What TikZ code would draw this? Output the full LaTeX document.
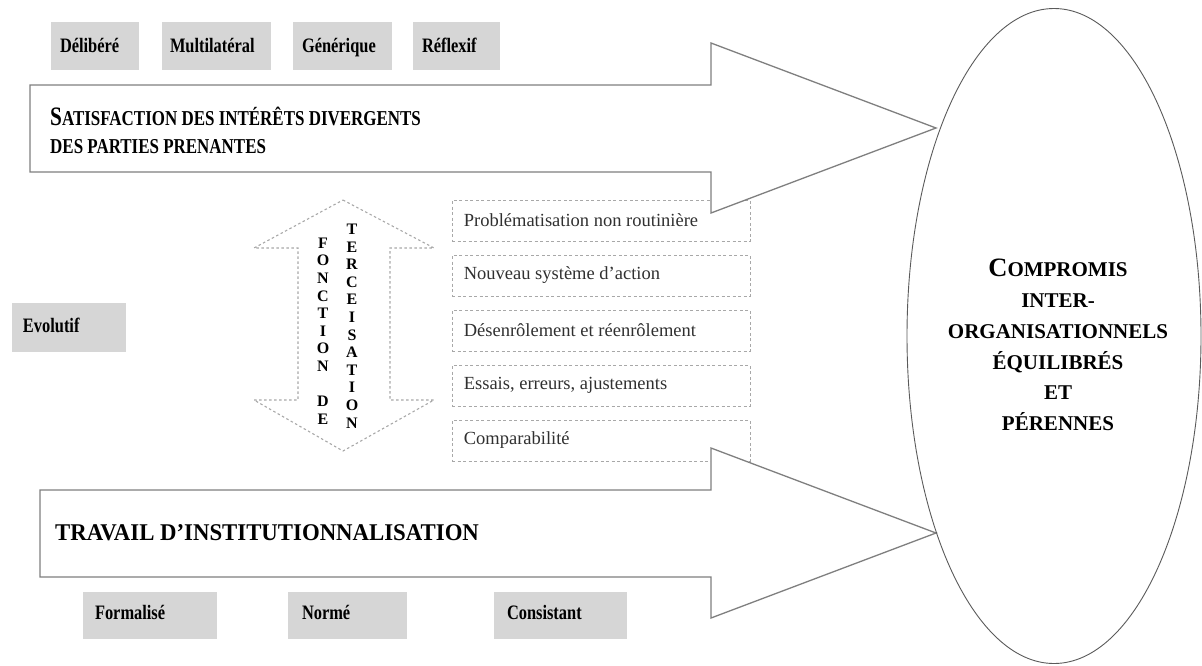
\documentclass[tikz,border=0pt]{standalone}
\usepackage{fontspec}
\usepackage{graphicx}
\setmainfont{Liberation Serif}
\usetikzlibrary{shapes.geometric}
\definecolor{tagfill}{HTML}{D6D6D6}
\definecolor{arrowline}{HTML}{7F7F7F}
\definecolor{dashline}{HTML}{A8A8A8}
\definecolor{elline}{HTML}{5A5A5A}
\definecolor{boxtext}{HTML}{303030}
\newcommand{\capbig}[1]{{\fontsize{26.6}{26.6}\selectfont #1}}
\newcommand{\cnd}[1]{\scalebox{0.8}[1]{#1}}
\begin{document}
\begin{tikzpicture}[x=1pt,y=-1pt,
  tagbox/.style={fill=tagfill, draw=none, inner sep=0pt, minimum height=48pt},
  tagtext/.style={anchor=base west, inner sep=0pt, font=\bfseries\fontsize{20.5}{22}\selectfont, text=black},
  dbox/.style={draw=dashline, dash pattern=on 3pt off 2.5pt, line width=0.8pt, minimum width=298pt, minimum height=41pt, inner sep=0pt},
  dtext/.style={anchor=west, inner sep=0pt, font=\fontsize{18.5}{20}\selectfont, text=boxtext},
  bigarrow/.style={draw=arrowline, line width=1.3pt, fill=white, line join=miter},
  dasharrow/.style={draw=dashline, dash pattern=on 2.5pt off 2.5pt, line width=1.1pt},
  title/.style={anchor=base west, inner sep=0pt, font=\bfseries\fontsize{21.2}{24}\selectfont, text=black},
  vletters/.style={align=center, inner sep=0pt, font=\bfseries\fontsize{16}{17.6}\selectfont, text=black}
]
\useasboundingbox (0,0) rectangle (1202,665);

% top tags
\node[tagbox, minimum width=88pt] (tdel) at (95,46) {};
\node[tagtext] (tdelt) at ([xshift=9pt,yshift=-6pt]tdel.west) {\cnd{Délibéré}};
\node[tagbox, minimum width=109pt] (tmul) at (216.5,46) {};
\node[tagtext] (tmult) at ([xshift=8pt,yshift=-6pt]tmul.west) {\cnd{Multilatéral}};
\node[tagbox, minimum width=99pt] (tgen) at (342.5,46) {};
\node[tagtext] (tgent) at ([xshift=9pt,yshift=-6pt]tgen.west) {\cnd{Générique}};
\node[tagbox, minimum width=87pt] (tref) at (456.5,46) {};
\node[tagtext] (treft) at ([xshift=9pt,yshift=-6pt]tref.west) {\cnd{Réflexif}};

% left tag
\node[tagbox, minimum width=114pt, minimum height=49pt] (tevo) at (69,327.5) {};
\node[tagtext] (tevot) at ([xshift=11pt,yshift=-5pt]tevo.west) {\cnd{Evolutif}};

% bottom tags
\node[tagbox, minimum width=134pt, minimum height=47pt] (tfor) at (150,615.5) {};
\node[tagtext] (tfort) at ([xshift=12pt,yshift=-4pt]tfor.west) {\cnd{Formalisé}};
\node[tagbox, minimum width=119pt, minimum height=47pt] (tnor) at (347.5,615.5) {};
\node[tagtext] (tnort) at ([xshift=14pt,yshift=-4pt]tnor.west) {\cnd{Normé}};
\node[tagbox, minimum width=133pt, minimum height=47pt] (tcon) at (560.5,615.5) {};
\node[tagtext] (tcont) at ([xshift=13pt,yshift=-4pt]tcon.west) {\cnd{Consistant}};

% dashed boxes
\node[dbox] (b1) at (601,220.5) {};
\node[dtext] (b1t) at ([xshift=12pt]b1.west) {Problématisation non routinière};
\node[dbox] (b2) at (601,275.5) {};
\node[dtext] (b2t) at ([xshift=12pt]b2.west) {Nouveau système d’action};
\node[dbox] (b3) at (601,330.5) {};
\node[dtext] (b3t) at ([xshift=12pt]b3.west) {Désenrôlement et réenrôlement};
\node[dbox] (b4) at (601,385.5) {};
\node[dtext] (b4t) at ([xshift=12pt]b4.west) {Essais, erreurs, ajustements};
\node[dbox] (b5) at (601,440.5) {};
\node[dtext] (b5t) at ([xshift=12pt]b5.west) {Comparabilité};

% dashed double arrow
\draw[dasharrow] (343,200) -- (434,248) -- (390,248) -- (390,400) -- (434,400) -- (343,451)
  -- (254,400) -- (298,400) -- (298,248) -- (254,248) -- cycle;
\node[vletters] (vfon) at (323,331) {F\\O\\N\\C\\T\\I\\O\\N\\\mbox{}\\D\\E};
\node[vletters] (vter) at (352,326) {T\\E\\R\\C\\E\\I\\S\\A\\T\\I\\O\\N};

% big arrows
\draw[bigarrow] (30,85) -- (711,85) -- (711,43) -- (936,128) -- (711,213) -- (711,172) -- (30,172) -- cycle;
\draw[bigarrow] (40,490) -- (711,490) -- (711,448) -- (936,533) -- (711,618) -- (711,577) -- (40,577) -- cycle;

\node[title] (sat1) at (50,125) {\cnd{\capbig{S}ATISFACTION DES INTÉRÊTS DIVERGENTS}};
\node[title] (sat2) at (50,153) {\cnd{DES PARTIES PRENANTES}};
\node[title, font=\bfseries\fontsize{24}{28}\selectfont] (trav) at (55,540) {\scalebox{0.95}[1]{TRAVAIL D’INSTITUTIONNALISATION}};

% ellipse
\node[draw=elline, line width=0.9pt, ellipse, minimum width=294pt, minimum height=655pt, inner sep=0pt] (ell) at (1054,336) {};
\node[align=center, inner sep=0pt, font=\bfseries\fontsize{21}{30.8}\selectfont, text=black] (elltxt) at (1058,345)
  {{\fontsize{26.5}{30.8}\selectfont C}OMPROMIS\\INTER-\\ORGANISATIONNELS\\ÉQUILIBRÉS\\ET\\PÉRENNES};
\end{tikzpicture}
\end{document}
